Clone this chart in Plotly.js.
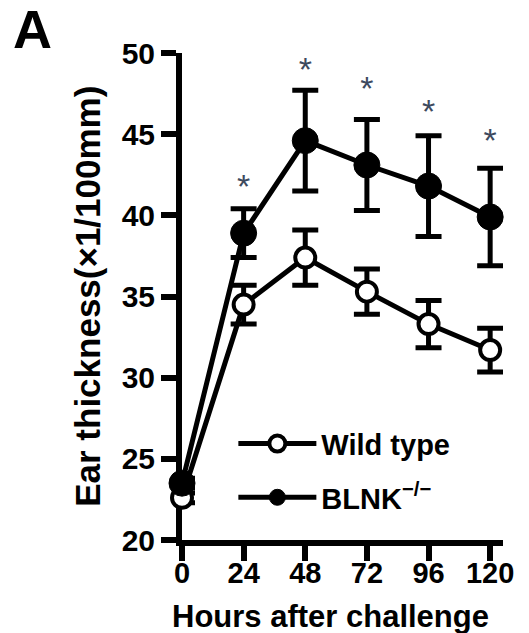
<!DOCTYPE html>
<html>
<head>
<meta charset="utf-8">
<script src="https://cdn.plot.ly/plotly-3.0.1.min.js"></script>
<style>html,body{margin:0;padding:0;background:#fff;}#chart{width:529px;height:633px;}</style>
</head>
<body>
<div id="chart"></div>
<script>
// Data
const hours = [0, 24, 48, 72, 96, 120];
const wildType = [22.6, 34.5, 37.4, 35.3, 33.3, 31.7];
const wildTypeErr = [0.3, 1.2, 1.7, 1.4, 1.45, 1.35];
const blnk = [23.5, 38.9, 44.6, 43.1, 41.8, 39.9];
const blnkErr = [0.3, 1.5, 3.1, 2.8, 3.1, 3.0];
const starHours = [24, 48, 72, 96, 120];
const starY = [41.6, 48.8, 47.6, 46.2, 44.4];
const starText = ['*', '*', '*', '*', '*'];
const xTicks = [0, 24, 48, 72, 96, 120];
const yTicks = [20, 25, 30, 35, 40, 45, 50];

const FONT = 'Liberation Sans, Arial, Helvetica, sans-serif';

const traces = [
  {
    x: hours, y: wildType, name: 'Wild type', type: 'scatter', mode: 'lines+markers',
    legendgroup: 'wt', cliponaxis: false,
    line: {color: '#000', width: 5},
    marker: {symbol: 'circle', size: 20, color: '#fff', line: {color: '#000', width: 4}},
    error_y: {type: 'data', array: wildTypeErr, visible: true, color: '#000', thickness: 5, width: 13}
  },
  {
    x: hours, y: blnk, name: 'BLNK<sup>\u2212/\u2212</sup>', type: 'scatter', mode: 'lines+markers',
    legendgroup: 'blnk', cliponaxis: false,
    line: {color: '#000', width: 5},
    marker: {symbol: 'circle', size: 26, color: '#000', line: {color: '#000', width: 1}},
    error_y: {type: 'data', array: blnkErr, visible: true, color: '#000', thickness: 5, width: 13}
  },
  {
    x: starHours, y: starY, text: starText, type: 'scatter', mode: 'text',
    showlegend: false, cliponaxis: false, hoverinfo: 'skip',
    textposition: 'middle center',
    textfont: {family: FONT, size: 34, color: '#3d4a5e'}
  }
];

const layout = {
  width: 529, height: 633,
  margin: {l: 182, r: 26, t: 53, b: 93, pad: 0},
  paper_bgcolor: '#fff', plot_bgcolor: '#fff',
  font: {family: FONT, color: '#000'},
  showlegend: true,
  legend: {
    x: 0.16, y: 0.25, xanchor: 'left', yanchor: 'top',
    bgcolor: 'rgba(0,0,0,0)',
    font: {family: FONT, size: 29, color: '#000', weight: 'bold'},
    itemwidth: 78, tracegroupgap: 13, traceorder: 'grouped'
  },
  xaxis: {
    range: [0, 125], tickvals: xTicks, ticktext: xTicks.map(String),
    showline: true, linecolor: '#000', linewidth: 6,
    ticks: 'outside', ticklen: 15, tickwidth: 6, tickcolor: '#000',
    ticklabelstandoff: -13,
    showgrid: false, zeroline: false, layer: 'below traces',
    tickfont: {family: FONT, size: 29, color: '#000', weight: 'bold'},
    fixedrange: true
  },
  yaxis: {
    range: [20, 50], tickvals: yTicks, ticktext: yTicks.map(String),
    showline: true, linecolor: '#000', linewidth: 6,
    ticks: 'outside', ticklen: 15, tickwidth: 6, tickcolor: '#000',
    showgrid: false, zeroline: false, layer: 'below traces',
    tickfont: {family: FONT, size: 30, color: '#000', weight: 'bold'},
    fixedrange: true
  },
  annotations: [
    {text: 'A', xref: 'paper', yref: 'paper', x: -0.465, y: 1.0, xanchor: 'center', yanchor: 'bottom',
     yshift: -8, showarrow: false, font: {family: FONT, size: 54, color: '#000', weight: 'bold'}},
    {text: 'Ear thickness(\u00d71/100mm)', xref: 'paper', yref: 'paper', x: -0.295, y: 0.5,
     xanchor: 'center', yanchor: 'middle', textangle: -90, showarrow: false,
     font: {family: FONT, size: 35, color: '#000', weight: 'bold'}},
    {text: 'Hours after challenge', xref: 'paper', yref: 'paper', x: 0.462, y: -0.157,
     xanchor: 'center', yanchor: 'middle', showarrow: false,
     font: {family: FONT, size: 31, color: '#000', weight: 'bold'}}
  ]
};

Plotly.newPlot('chart', traces, layout, {displayModeBar: false, staticPlot: true});
</script>
</body>
</html>
